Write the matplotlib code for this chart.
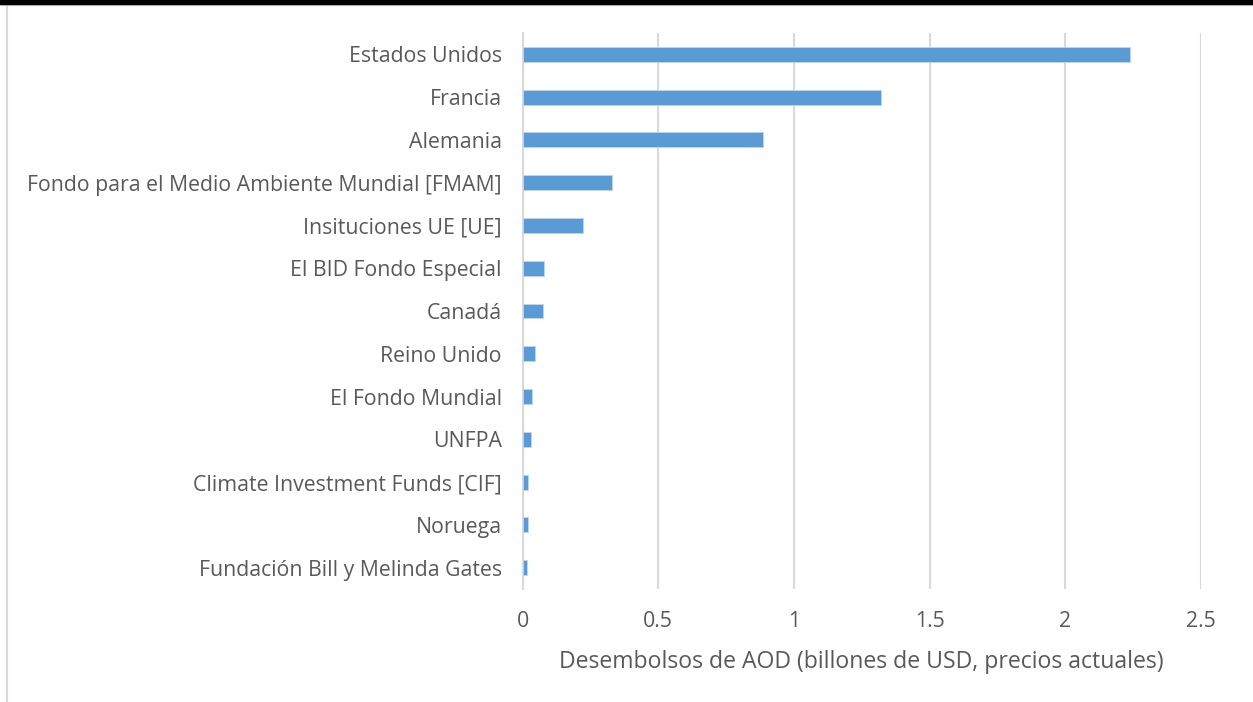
import matplotlib.pyplot as plt
from matplotlib.patches import Rectangle
from matplotlib.lines import Line2D

# Donors and disbursements (billions USD, current prices)
donors = [
    'Estados Unidos',
    'Francia',
    'Alemania',
    'Fondo para el Medio Ambiente Mundial [FMAM]',
    'Insituciones UE [UE]',
    'El BID Fondo Especial',
    'Canadá',
    'Reino Unido',
    'El Fondo Mundial',
    'UNFPA',
    'Climate Investment Funds [CIF]',
    'Noruega',
    'Fundación Bill y Melinda Gates',
]
disbursements = [2.24, 1.32, 0.886, 0.33, 0.223, 0.078, 0.077, 0.045, 0.035, 0.031, 0.021, 0.019, 0.018]
x_ticks = [0, 0.5, 1, 1.5, 2, 2.5]
x_tick_labels = ['0', '0.5', '1', '1.5', '2', '2.5']

plt.rcParams['font.family'] = ['Open Sans', 'DejaVu Sans']
text_color = '#595959'
grid_color = '#d9d9d9'

fig = plt.figure(figsize=(12.53, 7.02), dpi=100)
ax = fig.add_axes([522.5 / 1253, 1 - 589 / 702, (1201 - 522.5) / 1253, (589 - 33) / 702])

y_pos = list(range(len(donors)))
ax.barh(y_pos, disbursements, height=0.35, color='#5b9bd5', edgecolor='#bdd7ee', linewidth=0.6, zorder=3)

ax.set_ylim(len(donors) - 0.5, -0.5)
ax.set_xlim(0, 2.5)
ax.set_yticks(y_pos)
ax.set_yticklabels(donors, fontsize=15.3, color=text_color)
ax.set_xticks(x_ticks)
ax.set_xticklabels(x_tick_labels, fontsize=15.3, color=text_color)
ax.tick_params(axis='y', length=0, pad=15)
ax.tick_params(axis='x', length=0, pad=16)

ax.grid(axis='x', color=grid_color, linewidth=1.5, zorder=0)
for side in ['top', 'right', 'bottom']:
    ax.spines[side].set_visible(False)
ax.spines['left'].set_color(grid_color)
ax.spines['left'].set_linewidth(1.5)

ax.set_xlabel('Desembolsos de AOD (billones de USD, precios actuales)', fontsize=16.6, color=text_color, labelpad=13)

# frame pieces: black band on top, thin gray border left
fig.patches.append(Rectangle((0, 1 - 4 / 702), 1, 4 / 702, transform=fig.transFigure, color='black', zorder=10))
fig.lines.append(Line2D([0, 1], [1 - 5 / 702] * 2, transform=fig.transFigure, color=grid_color, linewidth=1))
fig.lines.append(Line2D([7 / 1253] * 2, [0, 1 - 4 / 702], transform=fig.transFigure, color=grid_color, linewidth=1.5))

fig.savefig('out.png', dpi=100)
